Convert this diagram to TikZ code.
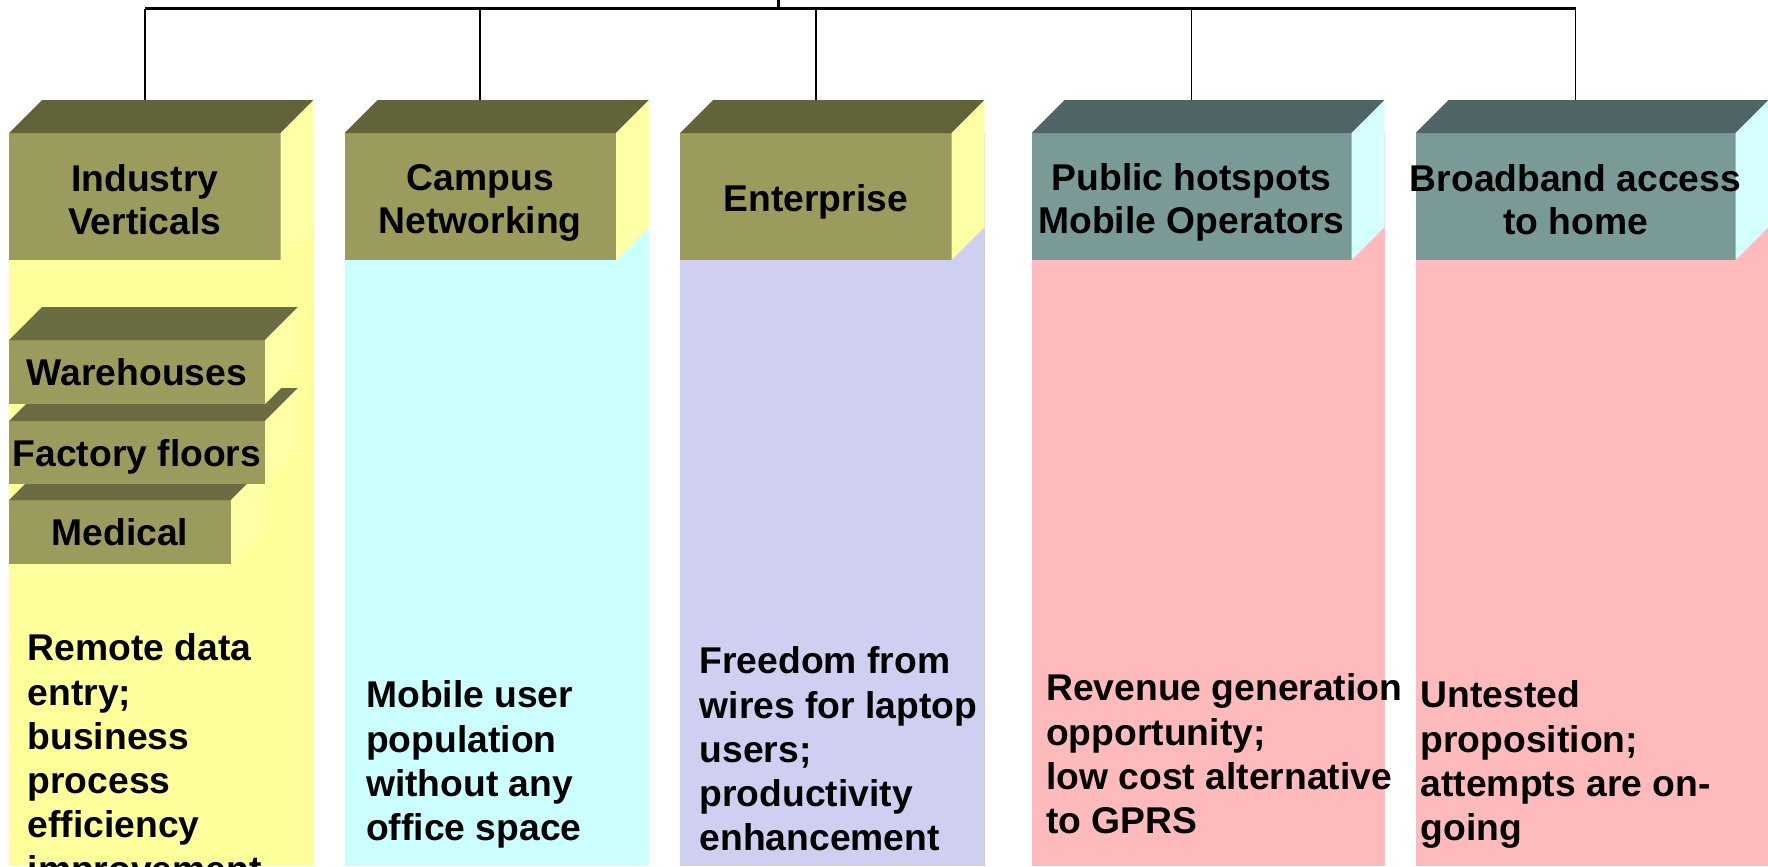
\documentclass[tikz,border=0pt]{standalone}
\usepackage{fontspec}
\setsansfont{Liberation Sans}
\usetikzlibrary{positioning, calc, backgrounds}

\definecolor{olivefront}{HTML}{9C9B5E}
\definecolor{olivetop}{HTML}{63633A}
\definecolor{subtop}{HTML}{6C6C42}
\definecolor{tealfront}{HTML}{7A9A98}
\definecolor{tealtop}{HTML}{4F6565}
\definecolor{bodyyellow}{HTML}{FFFF9C}
\definecolor{sideyellow}{HTML}{FFFFA6}
\definecolor{bodycyan}{HTML}{CCFFFF}
\definecolor{sidecyan}{HTML}{D6FFFF}
\definecolor{bodylilac}{HTML}{CFCFF2}
\definecolor{bodypink}{HTML}{FFBBBB}

\newcommand{\hdrfont}{\sffamily\bfseries\fontsize{10.6}{12.3}\selectfont}
\newcommand{\notefont}{\sffamily\bfseries\fontsize{10.6}{12.6}\selectfont}
\newcommand{\dep}{3.3}
% top and side face of a block node: #1 node, #2 top colour, #3 side colour
\newcommand{\blockfaces}[3]{%
    \fill[#2] (#1.north west) -- ++(\dep,\dep) -- ([shift={(\dep,\dep)}]#1.north east) -- (#1.north east) -- cycle;
    \fill[#3] (#1.north east) -- ++(\dep,\dep) -- ([shift={(\dep,\dep)}]#1.south east) -- (#1.south east) -- cycle;
}

\begin{document}
\begin{tikzpicture}[
    x=1mm, y=1mm,
    node distance=6.4mm,
    hdr/.style={rectangle, inner sep=0pt, outer sep=0pt, minimum height=12.7mm, minimum width=27.15mm, fill=olivefront},
    hdrwide/.style={hdr, minimum width=32mm, fill=tealfront},
    htext/.style={inner sep=0pt, align=center, font=\hdrfont},
    sub/.style={rectangle, inner sep=0pt, outer sep=0pt, minimum height=6.4mm, minimum width=25.6mm, text height=2.75mm, text depth=0pt, fill=olivefront, font=\hdrfont},
    note/.style={inner sep=0pt, align=left, font=\notefont},
    wire/.style={line width=0.5pt},
    busline/.style={line width=0.6pt},
    stem/.style={line width=0.85pt}
]
    \useasboundingbox (0,0) rectangle (176.8,-86.6);
    \clip (0,0) rectangle (176.8,-86.6);
    \coordinate (floor) at (0,-86.6);
    \coordinate (root) at (77.8,0);
    \coordinate (bus) at (77.8,-0.85);

    % header blocks
    \node[hdr, anchor=north west] (hind) at (0.9,-13.3) {};
    \node[hdr, right=of hind] (hcmp) {};
    \node[hdr, right=of hcmp] (hent) {};
    \node[hdrwide, right=8mm of hent] (hpub) {};
    \node[hdrwide, right=of hpub] (hbrd) {};

    \blockfaces{hind}{olivetop}{sideyellow}
    \blockfaces{hcmp}{olivetop}{sideyellow}
    \blockfaces{hent}{olivetop}{sideyellow}
    \blockfaces{hpub}{tealtop}{sidecyan}
    \blockfaces{hbrd}{tealtop}{sidecyan}

    \node[htext, yshift=-0.35mm] (tind) at (hind) {Industry\\Verticals};
    \node[htext, yshift=-0.65mm] (tcmp) at (hcmp) {Campus\\Networking};
    \node[htext, yshift=-0.55mm] (tent) at (hent) {Enterprise};
    \node[htext, yshift=-0.55mm] (tpub) at (hpub) {Public hotspots\\Mobile Operators};
    \node[htext, yshift=-0.3mm] (tbrd) at (hbrd) {Broadband access\\to home};

    % columns behind the blocks
    \begin{scope}[on background layer]
        \fill[bodyyellow] (hind.north west) rectangle ($(hind.east |- floor)+(\dep,0)$);
        \fill[bodycyan] (hcmp.north west) rectangle ($(hcmp.east |- floor)+(\dep,0)$);
        \fill[bodylilac] (hent.north west) rectangle ($(hent.east |- floor)+(\dep,0)$);
        \fill[bodypink] (hpub.north west) rectangle ($(hpub.east |- floor)+(\dep,0)$);
        \fill[bodypink] (hbrd.north west) rectangle ($(hbrd.east |- floor)+(\dep,0)$);
    \end{scope}

    % connectors
    \draw[stem] (root) -- (bus);
    \draw[busline] (hind.north |- bus) -- (hbrd.north |- bus);
    \foreach \n in {hind,hcmp,hent,hpub,hbrd}
        \draw[wire] (\n.north |- bus) -- ([yshift=\dep mm]\n.north);

    % stacked blocks, lowest first
    \node[sub, minimum width=22.2mm, below right=24mm and 0mm of hind.south west] (med) {Medical};
    \blockfaces{med}{subtop}{sideyellow}
    \node[sub, minimum height=6.3mm, above right=1.6mm and 0mm of med.north west] (fac) {Factory floors};
    \blockfaces{fac}{subtop}{sideyellow}
    \node[sub, above right=1.7mm and 0mm of fac.north west] (wrh) {Warehouses};
    \blockfaces{wrh}{subtop}{sideyellow}

    % notes
    \node[note, below right=37.3mm and 1.8mm of hind.south west] (nind) {Remote data\\entry;\\business\\process\\efficiency\\improvement};
    \node[note, below right=42mm and 2.1mm of hcmp.south west] (ncmp) {Mobile user\\population\\without any\\office space};
    \node[note, below right=38.6mm and 1.9mm of hent.south west] (nent) {Freedom from\\wires for laptop\\users;\\productivity\\enhancement};
    \node[note, below right=41.3mm and 1.4mm of hpub.south west] (npub) {Revenue generation\\opportunity;\\low cost alternative\\to GPRS};
    \node[note, below right=42mm and 0.45mm of hbrd.south west] (nbrd) {Untested\\proposition;\\attempts are on-\\going};
\end{tikzpicture}
\end{document}
